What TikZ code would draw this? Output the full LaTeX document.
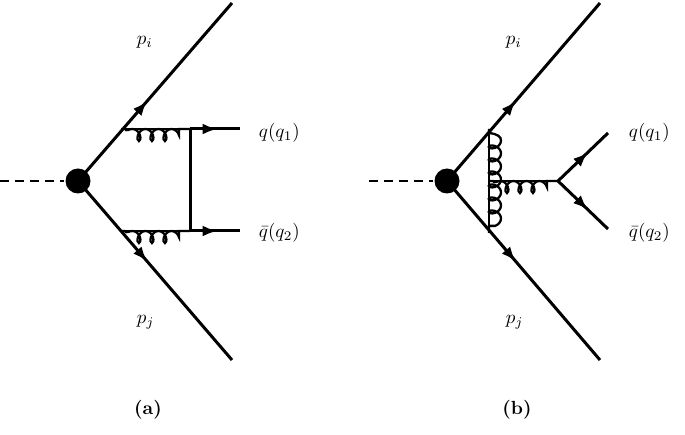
\documentclass[tikz,border=0pt]{standalone}
\usetikzlibrary{decorations.pathmorphing,decorations.markings,arrows.meta}
\begin{document}
\begin{tikzpicture}[x=1pt,y=-1pt,line width=3pt,
  fer/.style={postaction={decorate},decoration={markings,mark=at position #1 with {\arrow{Latex[length=15pt,width=11pt]}}}},
  fer/.default=0.5,
  glu/.style={decorate,decoration={coil,amplitude=6pt,segment length=13pt,aspect=0.7,raise=#1,pre length=4pt,post length=4pt},line width=2.3pt},
  lab/.style={scale=1.9,inner sep=0pt,anchor=west}]
\useasboundingbox (0,0) rectangle (685,435);
% (a)
\coordinate (a0) at (0,181);
\node[circle,fill=black,minimum size=25pt,inner sep=0pt] (va) at (78,181) {};
\coordinate (au) at (232,3);
\coordinate (ad) at (232,360);
\coordinate (g1) at (121,129);
\coordinate (g2) at (121,231);
\coordinate (r1) at (190,129);
\coordinate (r2) at (190,231);
\coordinate (q1) at (240,129);
\coordinate (q2) at (240,231);
\draw[dashed,line width=2.4pt,dash pattern=on 9pt off 6pt] (a0) -- (va);
\draw[fer=0.45] (va.center) -- (au);
\draw[fer=0.45] (va.center) -- (ad);
\draw[glu=-6pt] (g1) -- (r1);
\draw[glu=-6pt] (g2) -- (r2);
\draw[line width=2.3pt] (g1) -- (r1);
\draw[line width=2.3pt] (g2) -- (r2);
\draw (r1) -- (r2);
\draw[fer=0.55] (r1) -- (q1);
\draw[fer=0.55] (r2) -- (q2);
\node[lab] (pa) at (134,42) {$p_i$};
\node[lab] (qa1) at (256,133) {$q(q_1)$};
\node[lab] (qa2) at (256,233) {$\bar q(q_2)$};
\node[lab] (pja) at (134,322) {$p_j$};
\node[scale=1.9,font=\bfseries] (la) at (148,410) {(a)};
% (b)
\coordinate (b0) at (369,181);
\node[circle,fill=black,minimum size=25pt,inner sep=0pt] (vb) at (447,181) {};
\coordinate (bu) at (600,3);
\coordinate (bd) at (600,360);
\coordinate (h1) at (489,129);
\coordinate (h2) at (489,233);
\coordinate (hm) at (489,181);
\coordinate (hv) at (558,181);
\coordinate (o1) at (608,133);
\coordinate (o2) at (608,229);
\draw[dashed,line width=2.4pt,dash pattern=on 9pt off 6pt] (b0) -- (vb);
\draw[fer=0.45] (vb.center) -- (bu);
\draw[fer=0.45] (vb.center) -- (bd);
\draw[glu=6pt] (h1) -- (h2);
\draw[line width=2.3pt] (h1) -- (h2);
\draw[glu=-6pt] (hm) -- (hv);
\draw[line width=2.3pt] (hm) -- (hv);
\draw[fer=0.6] (hv) -- (o1);
\draw[fer=0.6] (hv) -- (o2);
\node[lab] (pb) at (503,42) {$p_i$};
\node[lab] (qb1) at (626,133) {$q(q_1)$};
\node[lab] (qb2) at (626,233) {$\bar q(q_2)$};
\node[lab] (pjb) at (503,322) {$p_j$};
\node[scale=1.9,font=\bfseries] (lb) at (517,410) {(b)};
\end{tikzpicture}
\end{document}
